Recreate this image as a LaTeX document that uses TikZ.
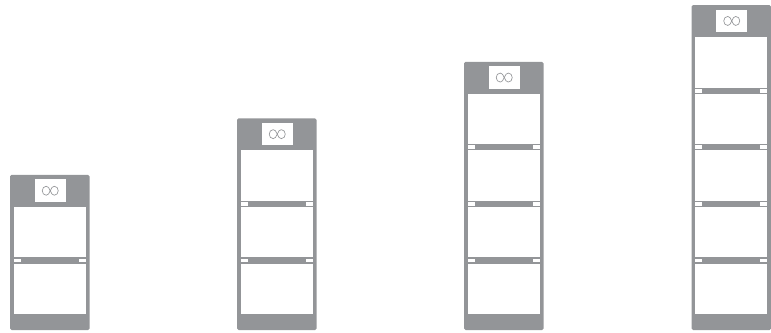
\documentclass[tikz,border=0pt]{standalone}
\usepackage{tikz}
\usetikzlibrary{positioning}
\definecolor{towergray}{HTML}{939598}

\begin{document}
\begin{tikzpicture}[
  x=1pt, y=1pt,
  frame/.style={fill=towergray, rounded corners=1.5pt},
  panel/.style={fill=white, inner sep=0pt, outer sep=0pt, minimum width=72.4pt, minimum height=50.4pt},
  logobox/.style={fill=white, inner sep=0pt, outer sep=0pt, minimum width=31pt, minimum height=22.5pt},
  tabbox/.style={fill=white, inner sep=0pt, outer sep=0pt, minimum width=7pt, minimum height=3.8pt},
  loopline/.style={draw=towergray, line width=0.65pt},
]
  \useasboundingbox (0,0) rectangle (771,332);

  % one tower per column: name / left edge / number of panels
  \foreach \tname/\xleft/\npanels in {a/10/2, b/237/3, c/464/4, d/691.5/5}{
    \pgfmathsetmacro{\xmid}{\xleft+39.75}
    \pgfmathsetmacro{\ytop}{18+\npanels*50.4+(\npanels-1)*6.2+32}
    % frame
    \fill[frame] (\xleft,2) rectangle (\xleft+79.5,\ytop);
    % panels from the bottom up
    \node[panel] (\tname-1) at (\xmid,43.2) {};
    \foreach \i [remember=\i as \j (initially 1)] in {2,...,\npanels}{
      \node[panel, above=6.2pt of \tname-\j] (\tname-\i) {};
      % slots at the ends of the bar
      \node[tabbox, above=1.2pt of \tname-\j.north west, anchor=south west] (\tname-tl\i) {};
      \node[tabbox, above=1.2pt of \tname-\j.north east, anchor=south east] (\tname-tr\i) {};
    }
    % logo
    \node[logobox, above=5pt of \tname-\npanels, xshift=0.5pt] (\tname-logo) {};
    \foreach \side in {1,-1}{
      \draw[loopline, shift={(\tname-logo.center)}, xscale=\side]
        (0,0) .. controls (1.2,2.8) and (2.2,4.5) .. (4,4.5)
        .. controls (6.4,4.5) and (8,2.5) .. (8,0)
        .. controls (8,-2.5) and (6.4,-4.5) .. (4,-4.5)
        .. controls (2.2,-4.5) and (1.2,-2.8) .. (0,0);
    }
  }
\end{tikzpicture}
\end{document}
